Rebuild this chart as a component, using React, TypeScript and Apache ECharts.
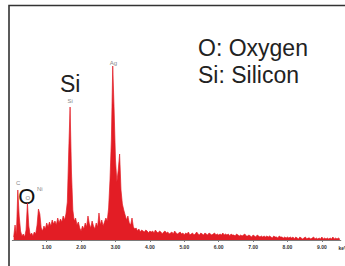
import React, { useEffect, useRef } from "react";
import * as echarts from "echarts";

// Spectrum sampled every 0.04 keV starting at 0.04 keV (counts, arbitrary units)
const energyStart = 0.04;
const energyStep = 0.04;
const counts: number[] = [
  3, 15, 5, 50, 24,
  9, 4, 6, 3, 10,
  37, 14, 5, 7, 4,
  8, 6, 15, 31, 26,
  12, 9, 14, 11, 17,
  13, 18, 14, 20, 16,
  19, 15, 22, 17, 21,
  18, 24, 20, 26, 38,
  88, 133, 68, 30, 19,
  22, 15, 18, 12, 9,
  14, 11, 17, 13, 24,
  16, 12, 19, 14, 11,
  17, 13, 27, 15, 20,
  14, 18, 22, 19, 32,
  60, 100, 174, 130, 80,
  58, 70, 86, 50, 36,
  30, 25, 20, 24, 17,
  15, 22, 13, 11, 12,
  9, 11, 8, 10, 9,
  8, 10, 9, 7, 9,
  8, 9, 7, 10, 8,
  7, 9, 8, 6, 8,
  9, 7, 8, 6, 7,
  8, 6, 9, 7, 6,
  7, 8, 6, 7, 5,
  7, 6, 8, 5, 6,
  7, 5, 6, 8, 6,
  5, 7, 6, 5, 7,
  6, 5, 7, 6, 5,
  6, 7, 5, 6, 5,
  6, 5, 7, 5, 6,
  5, 6, 4, 6, 5,
  5, 4, 6, 5, 4,
  5, 4, 5, 6, 4,
  4, 5, 4, 3, 5,
  4, 3, 5, 4, 3,
  4, 3, 4, 3, 4,
  3, 4, 3, 2, 4,
  3, 3, 2, 4, 3,
  3, 2, 3, 2, 3,
  2, 3, 2, 3, 1,
  3, 2, 1, 3, 2,
  1, 2, 3, 1, 2,
  2, 1, 2, 3, 1,
  2, 1, 2, 1, 3,
  1, 2, 1, 2, 1,
  2, 1, 3, 1, 2,
  1, 2, 1,
];

const xMin = 0;
const xMax = 9.55;
const tickInterval = 1;
const axisUnit = "keV";

const peakLabels = ["C", "O", "Ni", "Si", "Ag"];
const peakEnergies = [0.17, 0.45, 0.8, 1.68, 2.94];
const peakLabelCounts = [57, 42, 51, 139, 177];

const legendLines = ["O: Oxygen", "Si: Silicon"];

const FONT = "'Liberation Sans', Arial, Helvetica, sans-serif";

export default function App() {
  const ref = useRef<HTMLDivElement>(null);

  useEffect(() => {
    if (!ref.current) return;
    const chart = echarts.init(ref.current, undefined, { renderer: "svg" });
    const data = counts.map((c, i) => [
      +(energyStart + energyStep * i).toFixed(2),
      c,
    ]);

    const bigText = (text: string, x: number, y: number, align = "left") => ({
      type: "text",
      x,
      y,
      style: {
        text,
        fontSize: 23,
        fontFamily: FONT,
        fill: "#222",
        align,
        verticalAlign: "middle",
      },
    });

    chart.setOption({
      animation: false,
      backgroundColor: "#ffffff",
      grid: { left: 12.3, right: 4.2, top: 40, bottom: 26 },
      xAxis: {
        type: "value",
        min: xMin,
        max: xMax,
        interval: tickInterval,
        splitLine: { show: false },
        axisLine: { show: true, lineStyle: { color: "#7a7a7a", width: 1 } },
        axisTick: { show: true, length: 2, lineStyle: { color: "#7a7a7a" } },
        axisLabel: {
          showMinLabel: false,
          showMaxLabel: false,
          fontSize: 5,
          fontWeight: "bold",
          color: "#333",
          margin: 4,
          fontFamily: FONT,
          formatter: (v: number) => v.toFixed(2),
        },
      },
      yAxis: {
        type: "value",
        min: 0,
        max: 200,
        show: false,
      },
      series: [
        {
          type: "line",
          data,
          symbol: "none",
          lineStyle: { color: "#e31d25", width: 0.7 },
          areaStyle: { color: "#e31d25", opacity: 1 },
          markPoint: {
            symbol: "circle",
            symbolSize: 0,
            label: {
              show: true,
              color: "#888",
              fontSize: 6,
              fontFamily: FONT,
              formatter: (p: any) => p.name,
            },
            data: peakLabels.map((n, i) => ({
              name: n,
              coord: [peakEnergies[i], peakLabelCounts[i]],
            })),
          },
        },
      ],
      graphic: [
        {
          type: "rect",
          shape: { x: 9, y: 5.5, width: 400, height: 300 },
          style: { fill: "none", stroke: "#333", lineWidth: 1.6 },
          silent: true,
        },
        bigText(legendLines[0], 198, 48),
        bigText(legendLines[1], 198, 74.5),
        bigText("Si", 60, 83.5),
        {
          type: "text",
          x: 26.7,
          y: 196,
          style: {
            text: "O",
            fontSize: 22,
            fontFamily: FONT,
            fill: "#111",
            align: "center",
            verticalAlign: "middle",
          },
        },
        {
          type: "text",
          x: 338.5,
          y: 248,
          style: {
            text: axisUnit,
            fontSize: 5,
            fontWeight: "bold",
            fontFamily: FONT,
            fill: "#333",
            verticalAlign: "middle",
          },
        },
      ],
    });
    return () => chart.dispose();
  }, []);

  return (
    <div
      ref={ref}
      style={{ position: "absolute", left: 0, top: 0, width: 345, height: 266 }}
    />
  );
}
